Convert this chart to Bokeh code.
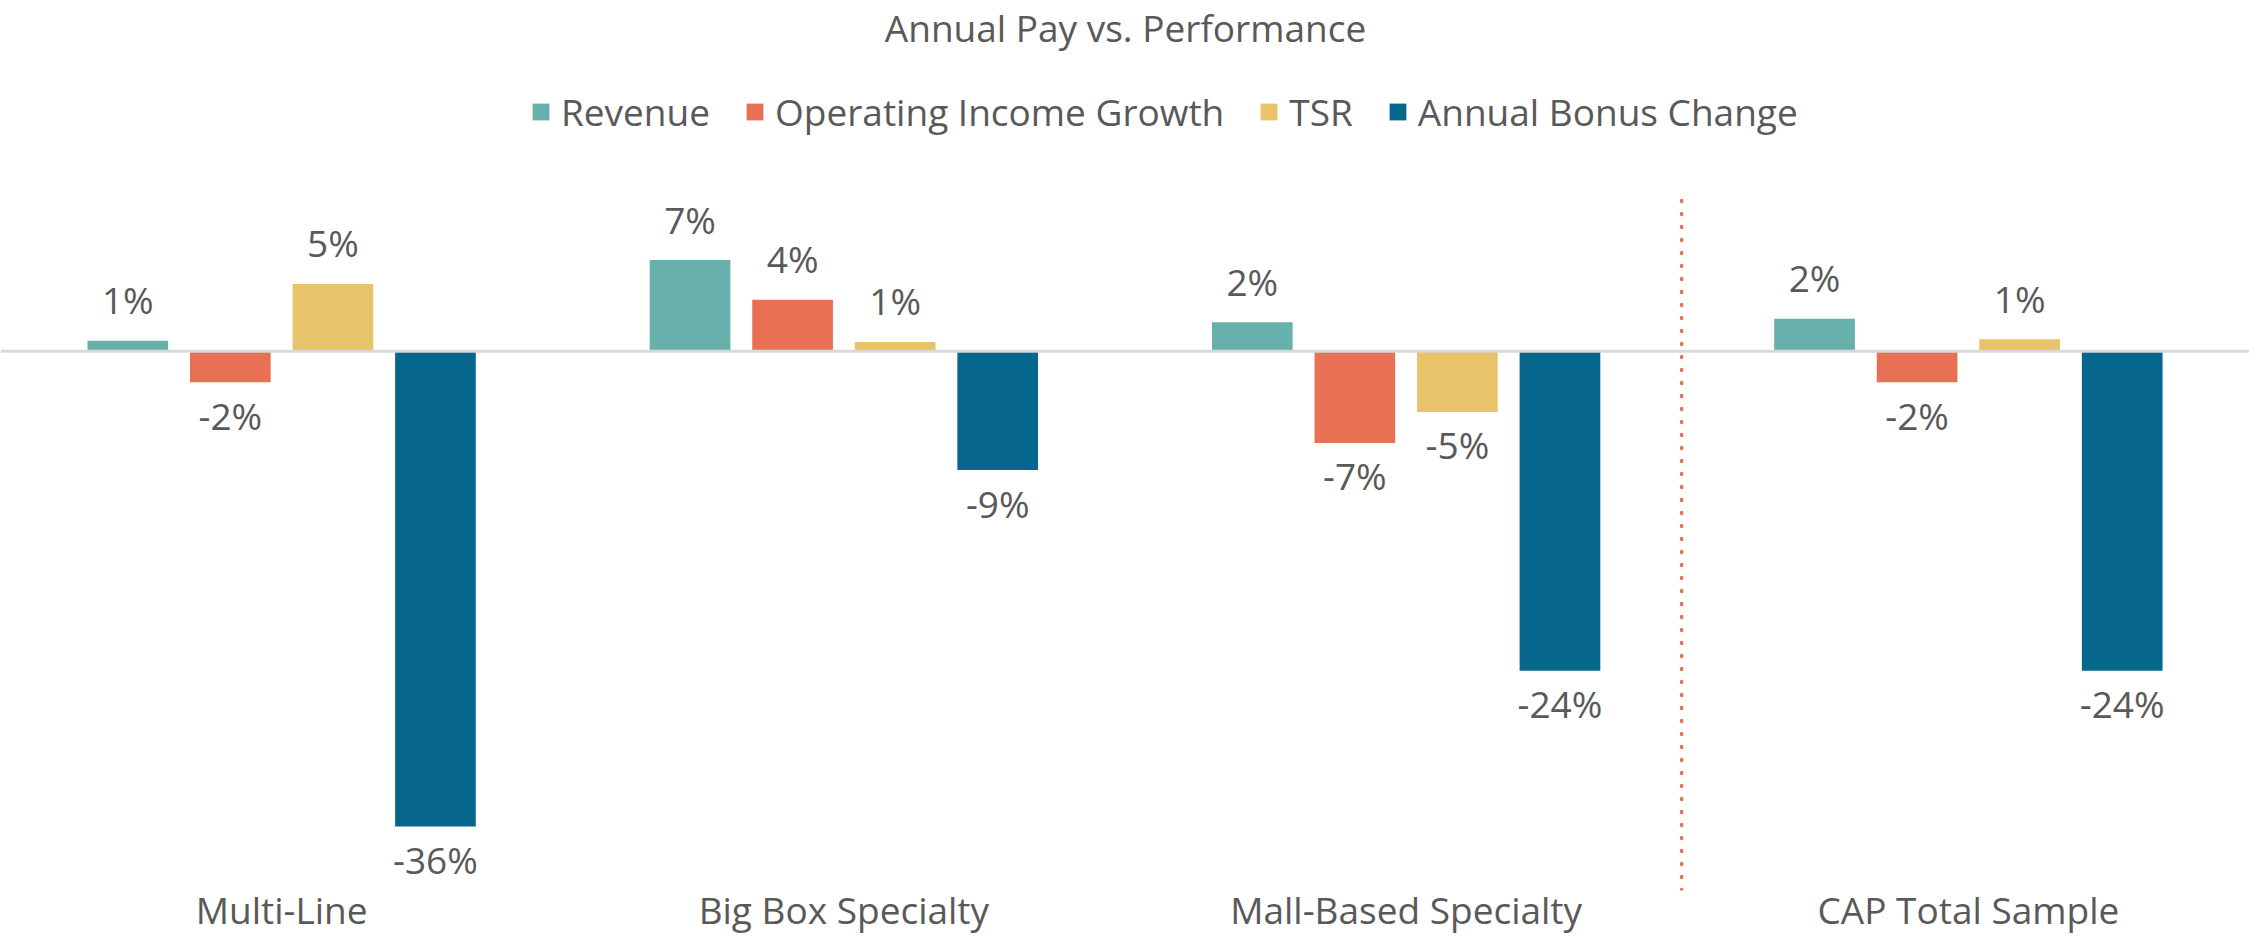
import numpy as np
from bokeh.plotting import figure
from bokeh.models import (ColumnDataSource, Range1d, FixedTicker, Span, Label,
                          Legend, LegendItem)
from bokeh.core.properties import value
from bokeh.embed import file_html
from bokeh.resources import INLINE

# ---------------- data ----------------
categories = ["Multi-Line", "Big Box Specialty", "Mall-Based Specialty", "CAP Total Sample"]
series = ["Revenue", "Operating Income Growth", "TSR", "Annual Bonus Change"]
revenue = [0.8, 6.9, 2.2, 2.45]
op_income_growth = [-2.35, 3.9, -6.95, -2.35]
tsr = [5.1, 0.7, -4.6, 0.9]
annual_bonus_change = [-36.0, -9.0, -24.2, -24.2]
chart_title = "Annual Pay vs. Performance"

# ---------------- style ----------------
colors = ["#68B0AB", "#E87054", "#E8C36A", "#07668C"]
FONT = "Open Sans"
TEXT_COLOR = "#595959"
FS = "37px"

FRAME_W = 2249
FRAME_H = 890
GROUP_PX = FRAME_W / len(categories)
PX_PER_PCT = 13.2
ZERO_FROM_TOP = 350.7

x_start = 0.0
x_end = FRAME_W / GROUP_PX
y_top = ZERO_FROM_TOP / PX_PER_PCT
y_bot = -(FRAME_H - ZERO_FROM_TOP) / PX_PER_PCT

p = figure(frame_width=FRAME_W, frame_height=FRAME_H,
           x_range=Range1d(x_start, x_end), y_range=Range1d(y_bot, y_top),
           output_backend="svg", toolbar_location=None,
           min_border_left=0, min_border_right=0, min_border_top=0, min_border_bottom=0)
p.outline_line_color = None
p.background_fill_color = "white"
p.border_fill_color = "white"
p.xgrid.visible = False
p.ygrid.visible = False
p.yaxis.visible = False

centers = np.arange(len(categories)) + 0.5
offsets = [-0.2736, -0.0912, 0.0912, 0.2736]
BAR_W = 0.1435
values = [revenue, op_income_growth, tsr, annual_bonus_change]

items = []
for name, vals, off, col in zip(series, values, offsets, colors):
    v = np.array(vals, dtype=float)
    xs = centers + off
    src = ColumnDataSource(dict(x=xs, top=v))
    r = p.vbar(x="x", top="top", bottom=0, width=BAR_W, source=src,
               fill_color=col, line_color=None)
    items.append(LegendItem(label=name, renderers=[r]))
    labels = [f"{t:.0f}%" for t in v]
    pos = v >= 0
    neg = ~pos
    if pos.any():
        p.text(x=xs[pos], y=v[pos], text=[l for l, m in zip(labels, pos) if m],
               text_align="center", text_baseline="alphabetic", y_offset=-41,
               text_font=value(FONT), text_font_size=value(FS), text_color=TEXT_COLOR)
    if neg.any():
        p.text(x=xs[neg], y=v[neg], text=[l for l, m in zip(labels, neg) if m],
               text_align="center", text_baseline="alphabetic", y_offset=33,
               text_font=value(FONT), text_font_size=value(FS), text_color=TEXT_COLOR)

# zero line
p.add_layout(Span(location=0, dimension="width", line_color="#D9D9D9",
                  line_width=3, level="overlay"))

# dotted separator before the total sample group
sep_x = 2.99
sep_top = 11.57
p.segment(x0=[sep_x], y0=[y_bot], x1=[sep_x], y1=[sep_top], line_color="#E87054",
          line_width=3.5, line_dash="1 12", line_cap="round")

# x axis with category names
p.xaxis.ticker = FixedTicker(ticks=[float(c) for c in centers])
p.xaxis.major_label_overrides = {float(c): cat for c, cat in zip(centers, categories)}
p.xaxis.axis_line_color = None
p.xaxis.major_tick_line_color = None
p.xaxis.minor_tick_line_color = None
p.xaxis.major_tick_out = 0
p.xaxis.major_tick_in = 0
p.xaxis.major_label_standoff = -7
p.xaxis.major_label_text_font = FONT
p.xaxis.major_label_text_font_size = FS
p.xaxis.major_label_text_color = TEXT_COLOR

# title
p.add_layout(Label(x=1125, y=FRAME_H - 27, x_units="screen", y_units="screen",
                   text=chart_title, text_align="center", text_baseline="alphabetic",
                   text_font=FONT, text_font_size=FS, text_color=TEXT_COLOR))

# legend
legend = Legend(items=items, orientation="horizontal", location=(530, FRAME_H - 137.4),
                glyph_width=21, glyph_height=21, label_standoff=10, spacing=34,
                padding=0, margin=0, border_line_color=None, background_fill_alpha=0,
                label_text_font=FONT, label_text_font_size=FS, label_text_color=TEXT_COLOR)
p.add_layout(legend)

open("out.html", "w").write(file_html(p, INLINE, title=chart_title))
